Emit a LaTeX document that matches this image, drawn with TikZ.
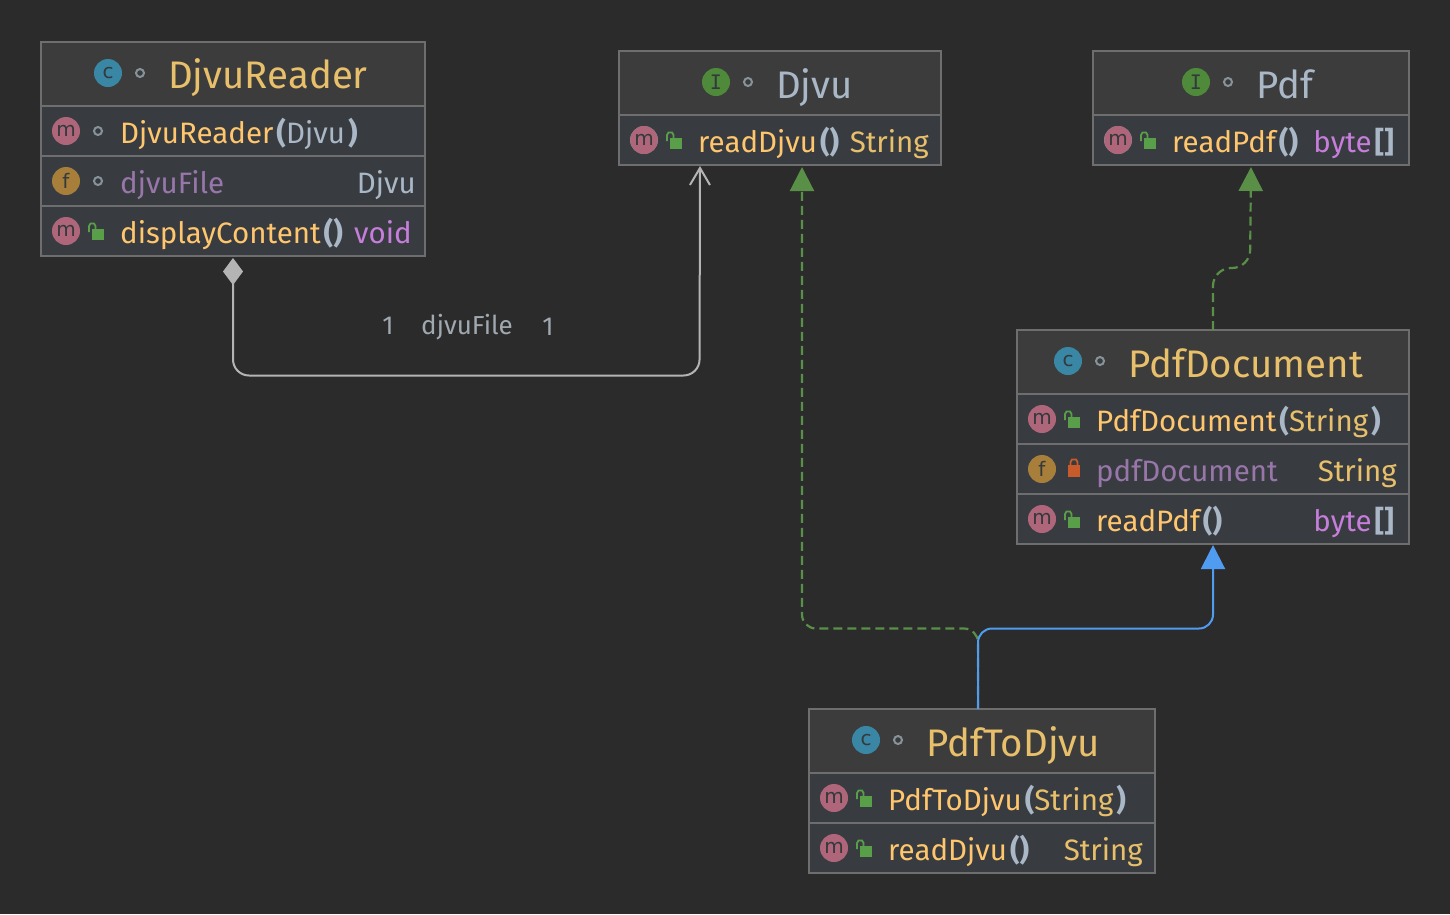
\documentclass[tikz,border=0pt]{standalone}
\usepackage{fontspec}
\setmainfont{Fira Sans}
\newfontfamily\glyphfont{DejaVu Sans}
\newfontfamily\glyphmono{DejaVu Sans Mono}
\usetikzlibrary{shapes.geometric}
\usetikzlibrary{arrows.meta}
\definecolor{bgdark}{HTML}{2B2B2B}
\definecolor{headfill}{HTML}{3C3C3C}
\definecolor{rowfill}{HTML}{383C40}
\definecolor{edgegray}{HTML}{6E6E6E}
\definecolor{titleorange}{HTML}{E8BF6A}
\definecolor{methodorange}{HTML}{FFC66D}
\definecolor{fieldpurple}{HTML}{9876AA}
\definecolor{keywordpurple}{HTML}{C77DDB}
\definecolor{typeblue}{HTML}{A9B7C6}
\definecolor{iconblue}{HTML}{3A87A5}
\definecolor{iconpink}{HTML}{B0667A}
\definecolor{iconbrown}{HTML}{A87F3A}
\definecolor{icongreen}{HTML}{4E8A3A}
\definecolor{lockgreen}{HTML}{599E48}
\definecolor{lockred}{HTML}{C75B2C}
\definecolor{dotgray}{HTML}{87939A}
\definecolor{glyphdark}{HTML}{33393C}
\definecolor{linegreen}{HTML}{5A8F47}
\definecolor{lineblue}{HTML}{4F9CF0}
\definecolor{linegray}{HTML}{B4B4B4}
\definecolor{labelgray}{HTML}{A0A8B0}
\newcommand{\pa}[1]{\textcolor{typeblue}{\bfseries\hspace{3pt}#1}}
\newcommand{\slabI}{{\glyphmono I}}
\newcommand{\openlock}[2]{
    \fill[lockgreen] (#1+4,#2-2) rectangle ++(12,11);
    \draw[lockgreen, line width=1.8pt] (#1+1,#2+1) -- (#1+1,#2-5) -- (#1+2.5,#2-7.5) -- (#1+6,#2-7.5) -- (#1+7.5,#2-5) -- (#1+7.5,#2-2);
}
\begin{document}
\begin{tikzpicture}[x=1pt,y=-1pt]
    % Define styles for shapes
    \tikzset{
        outerbox/.style={draw=edgegray, line width=2pt, fill=rowfill, anchor=north west, inner sep=0pt, outer sep=0pt},
        headbox/.style={draw=edgegray, line width=2pt, fill=headfill, anchor=north west, inner sep=0pt, outer sep=0pt},
        rowbox/.style={draw=edgegray, line width=2pt, fill=rowfill, anchor=north west, inner sep=0pt, outer sep=0pt},
        icon/.style={circle, minimum size=28pt, inner sep=0pt, text=glyphdark, font=\glyphfont\fontsize{20}{20}\selectfont},
        visdot/.style={circle, draw=dotgray, line width=2pt, minimum size=8pt, inner sep=0pt},
        titletxt/.style={anchor=base west, inner sep=0pt, text=titleorange, font=\fontsize{38.4}{42}\selectfont},
        rowtxt/.style={anchor=base west, inner sep=0pt, text=methodorange, font=\fontsize{29.5}{32}\selectfont},
        typetxt/.style={anchor=base east, inner sep=0pt, font=\fontsize{29.5}{32}\selectfont},
        edgetxt/.style={anchor=base, inner sep=0pt, text=labelgray, font=\fontsize{26}{28}\selectfont},
        composeline/.style={draw=linegray, line width=2pt, rounded corners=16pt},
        implline/.style={draw=linegreen, line width=2.2pt, dash pattern=on 9pt off 5pt, rounded corners=14pt},
        extendline/.style={draw=lineblue, line width=2pt, rounded corners=14pt},
    }
    \fill[bgdark] (0,0) rectangle (1450,914);
    \useasboundingbox (0,0) rectangle (1450,914);

    % Draw class boxes
    \node[outerbox, minimum width=384pt, minimum height=214pt] (reader) at (41,42) {};
    \node[headbox, minimum width=384pt, minimum height=64pt] (readerHead) at (41,42) {};
    \node[rowbox, minimum width=384pt, minimum height=50pt] (readerCtor) at (41,106) {};
    \node[rowbox, minimum width=384pt, minimum height=50pt] (readerField) at (41,156) {};
    \node[rowbox, minimum width=384pt, minimum height=50pt] (readerShow) at (41,206) {};

    \node[outerbox, minimum width=322pt, minimum height=114pt] (djvu) at (619,51) {};
    \node[headbox, minimum width=322pt, minimum height=64pt] (djvuHead) at (619,51) {};

    \node[outerbox, minimum width=316pt, minimum height=114pt] (pdf) at (1093,51) {};
    \node[headbox, minimum width=316pt, minimum height=64pt] (pdfHead) at (1093,51) {};

    \node[outerbox, minimum width=392pt, minimum height=214pt] (document) at (1017,330) {};
    \node[headbox, minimum width=392pt, minimum height=64pt] (documentHead) at (1017,330) {};
    \node[rowbox, minimum width=392pt, minimum height=50pt] (documentCtor) at (1017,394) {};
    \node[rowbox, minimum width=392pt, minimum height=50pt] (documentField) at (1017,444) {};
    \node[rowbox, minimum width=392pt, minimum height=50pt] (documentRead) at (1017,494) {};

    \node[outerbox, minimum width=346pt, minimum height=164pt] (converter) at (809,709) {};
    \node[headbox, minimum width=346pt, minimum height=64pt] (converterHead) at (809,709) {};
    \node[rowbox, minimum width=346pt, minimum height=50pt] (converterCtor) at (809,773) {};
    \node[rowbox, minimum width=346pt, minimum height=50pt] (converterRead) at (809,823) {};

    % Header icons
    \foreach \n/\cx/\cy/\col/\ltr in {a/108/73/iconblue/c, b/716/82/icongreen/\slabI, c/1196/82/icongreen/\slabI, d/1068/361/iconblue/c, e/866/740/iconblue/c} {
        \node[icon, fill=\col] (head\n) at (\cx,\cy) {\ltr};
        \node[visdot] (headDot\n) at (\cx+32,\cy) {};
    }
    % Member icons
    \foreach \n/\cx/\cy/\col/\ltr in {a/66/131/iconpink/m, b/66/181/iconbrown/f, c/66/231/iconpink/m, d/1042/419/iconpink/m, e/1042/469/iconbrown/f, f/1042/519/iconpink/m, g/834/798/iconpink/m, h/834/848/iconpink/m} {
        \node[icon, fill=\col] (member\n) at (\cx,\cy) {\ltr};
    }
    % Abstract methods
    \foreach \n/\cx/\cy in {a/644/140, b/1118/140} {
        \node[icon, fill=dotgray] (abstract\n) at (\cx,\cy) {};
        \node[ellipse, fill=iconpink, minimum width=19pt, minimum height=28pt, inner sep=0pt, text=glyphdark, font=\glyphfont\fontsize{20}{20}\selectfont] (abstractGlyph\n) at (\cx,\cy) {m};
    }
    \node[visdot] (dotCtor) at (98,131) {};
    \node[visdot] (dotField) at (98,181) {};
    % Access locks
    \foreach \cx/\cy in {88/231, 666/140, 1140/140, 1064/419, 1064/519, 856/798, 856/848} {
        \openlock{\cx}{\cy}
    }
    \fill[lockred] (1068,465) rectangle (1080,477);
    \draw[lockred, line width=1.8pt] (1070.5,465) -- (1070.5,462) -- (1072,459.5) -- (1076,459.5) -- (1077.5,462) -- (1077.5,465);

    % Titles
    \node[titletxt] (readerName) at (168,88) {DjvuReader};
    \node[titletxt, text=typeblue] (djvuName) at (776,98) {Djvu};
    \node[titletxt, text=typeblue] (pdfName) at (1256,98) {Pdf};
    \node[titletxt] (documentName) at (1128,377) {PdfDocument};
    \node[titletxt] (converterName) at (926,756) {PdfToDjvu};

    % Members
    \node[rowtxt] (readerCtorTxt) at (120,143) {DjvuReader\pa{(}\textcolor{typeblue}{Djvu}\pa{)}};
    \node[rowtxt, text=fieldpurple] (readerFieldTxt) at (120,193) {djvuFile};
    \node[typetxt, text=typeblue] (readerFieldType) at (416,193) {Djvu};
    \node[rowtxt] (readerShowTxt) at (120,243) {displayContent\pa{()}};
    \node[typetxt, text=keywordpurple] (readerShowType) at (412,243) {void};

    \node[rowtxt] (djvuTxt) at (698,152) {readDjvu\pa{()}};
    \node[typetxt, text=titleorange] (djvuType) at (929,152) {String};

    \node[rowtxt] (pdfTxt) at (1172,152) {readPdf\pa{()}};
    \node[typetxt, text=keywordpurple] (pdfType) at (1394,152) {byte\pa{[]}};

    \node[rowtxt] (documentCtorTxt) at (1096,431) {PdfDocument\pa{(}\textcolor{titleorange}{String}\pa{)}};
    \node[rowtxt, text=fieldpurple] (documentFieldTxt) at (1096,481) {pdfDocument};
    \node[typetxt, text=titleorange] (documentFieldType) at (1397,481) {String};
    \node[rowtxt] (documentReadTxt) at (1096,531) {readPdf\pa{()}};
    \node[typetxt, text=keywordpurple] (documentReadType) at (1394,531) {byte\pa{[]}};

    \node[rowtxt] (converterCtorTxt) at (888,810) {PdfToDjvu\pa{(}\textcolor{titleorange}{String}\pa{)}};
    \node[rowtxt] (converterReadTxt) at (888,860) {readDjvu\pa{()}};
    \node[typetxt, text=titleorange] (converterReadType) at (1143,860) {String};

    % Free ends of the connectors
    \coordinate (djvuUse) at (700,166);
    \coordinate (djvuImpl) at (802,167);
    \coordinate (converterOut) at (978,709);

    % Draw arrows
    \draw[composeline, {Diamond[length=27pt,width=20pt,fill=linegray]}-{Straight Barb[length=17pt,width=20pt,line width=2pt]}] ([yshift=-2pt]reader.south) -- (233,375.5) -- (699.5,375.5) -- (djvuUse);
    \draw[implline, -{Triangle[length=24pt,width=24pt,fill=linegreen]}] (converterOut) -- (978,628.5) -- (802,628.5) -- (djvuImpl);
    \draw[implline, rounded corners=18pt, -{Triangle[length=24pt,width=24pt,fill=linegreen]}] (document.north) -- (1213,268) -- (1250,268) -- ([yshift=-2pt]pdf.south);
    \draw[extendline, -{Triangle[length=24pt,width=24pt,fill=lineblue]}] (converterOut) -- (978,628.5) -- (1213,628.5) -- ([yshift=-1pt]document.south);

    % Edge labels
    \node[edgetxt] (cardFrom) at (388,334) {1};
    \node[edgetxt] (roleName) at (467,334) {djvuFile};
    \node[edgetxt] (cardTo) at (548,335) {1};
\end{tikzpicture}
\end{document}
